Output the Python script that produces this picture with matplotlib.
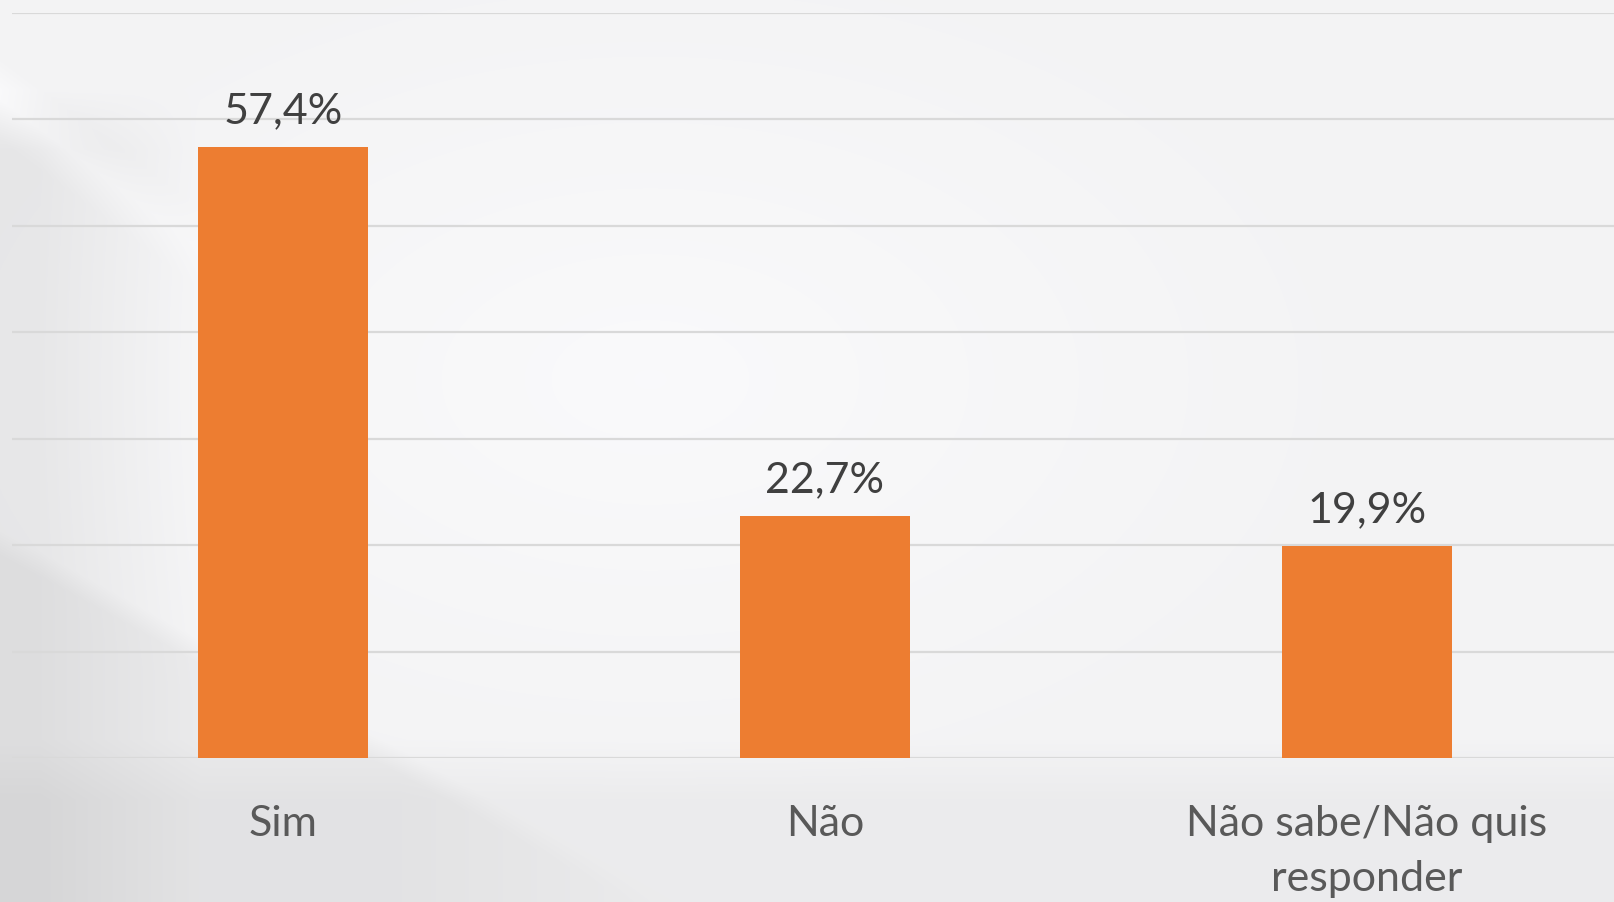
import matplotlib
matplotlib.use("Agg")
import matplotlib.pyplot as plt
import numpy as np

# dados do gráfico
categorias = ["Sim", "Não", "Não sabe/Não quis\nresponder"]
valores = [57.4, 22.7, 19.9]
rotulos = ["57,4%", "22,7%", "19,9%"]

plt.rcParams['font.family'] = ['Lato', 'DejaVu Sans']

W, H = 1615, 903
fig = plt.figure(figsize=(W / 100, H / 100), dpi=100)

# fundo cinza claro com faixas diagonais suaves
yy, xx = np.mgrid[0:H, 0:W].astype(float)
fundo = np.full((H, W), 0.955)
fundo += 0.025 * np.clip(1 - np.hypot((xx - 650) / 700, (yy - 380) / 420), 0, 1)
# faixa escura à esquerda
esq = np.clip((200 - xx) / 160, 0, 1) * np.clip((yy - 90) / 60, 0, 1)
fundo -= 0.05 * esq
# triângulo escuro abaixo da diagonal inferior esquerda
diag = np.clip(((yy - 530) - 0.55 * xx) / 25, 0, 1) * np.clip((700 - xx) / 300, 0, 1)
fundo -= 0.035 * diag
# faixa clara diagonal no topo esquerdo
clara = np.clip(1 - np.abs((yy - 100) - 0.75 * xx) / 40, 0, 1) * np.clip((260 - xx) / 200, 0, 1)
fundo += 0.03 * clara
# parte inferior mais cinza
fundo -= 0.03 * np.clip((yy - 740) / 60, 0, 1)
fundo = np.clip(fundo, 0, 1)

bg = fig.add_axes([0, 0, 1, 1])
bg.imshow(np.dstack([fundo, fundo, fundo * 1.005]).clip(0, 1), aspect='auto',
          extent=[0, 1, 0, 1], origin='upper')
bg.axis('off')

ax = fig.add_axes([12 / W, (H - 759) / H, 3 * 542 / W, (759 - 14) / H])
ax.patch.set_alpha(0)
x = np.arange(len(categorias))
ax.bar(x, valores, width=0.314, color='#ED7D31', zorder=3)
ax.set_xlim(-0.5, 2.5)
ax.set_ylim(0, 70)
ax.set_yticks(np.arange(0, 71, 10))
ax.yaxis.grid(True, color='#d9d9d9', linewidth=1.6, zorder=0)
ax.set_yticklabels([])
ax.tick_params(axis='both', length=0)
for s in ax.spines.values():
    s.set_visible(False)

for xi, v, r in zip(x, valores, rotulos):
    ax.text(xi, v + 2.35, r, ha='center', va='baseline', fontsize=31, color='#404040')

ax.set_xticks(x)
ax.set_xticklabels(categorias, fontsize=31, color='#595959', linespacing=1.55)
ax.tick_params(axis='x', pad=33)

fig.savefig("out.png", dpi=100)
